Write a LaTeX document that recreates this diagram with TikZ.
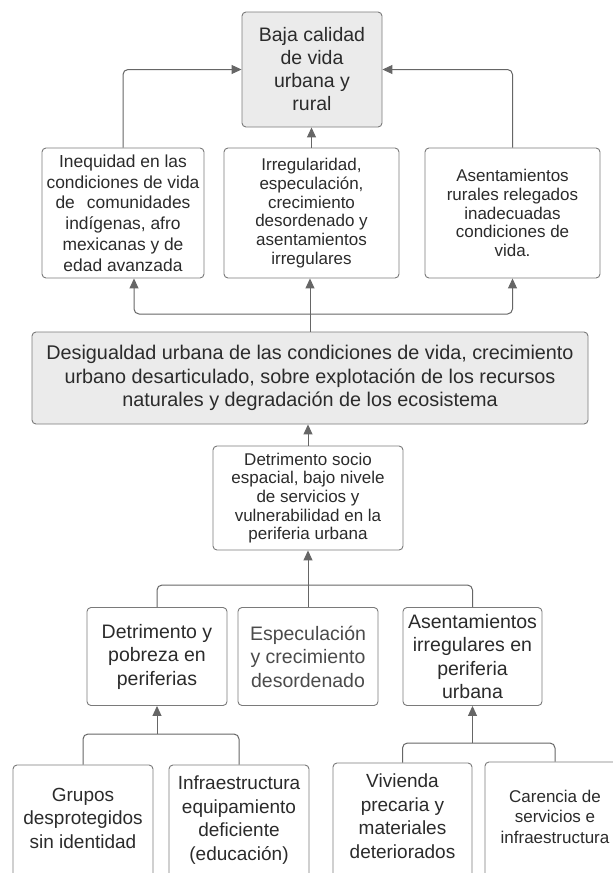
\documentclass[tikz,border=0pt]{standalone}
\usepackage{fontspec}
\setmainfont{Liberation Sans}
\usetikzlibrary{arrows.meta}
\definecolor{boxline}{HTML}{7A7A7A}
\definecolor{linkgray}{HTML}{666666}
\definecolor{boxfill}{HTML}{EBEBEB}
\definecolor{txt}{HTML}{2B2B2B}
\begin{document}
\begin{tikzpicture}[x=1pt,y=-1pt,
  box/.style={draw=boxline,rounded corners=4pt,line width=0.9pt,align=center,text=txt,inner sep=1pt},
  link/.style={draw=linkgray,line width=1pt,rounded corners=5pt}]
  \clip (0,0) rectangle (613,873);
  \fill[white] (0,0) rectangle (613,873);
        \begin{scope}[>={Triangle[length=10pt,width=9pt]}]

          \node (baja) at (312,69.5) [box,fill=boxfill,minimum width=140pt,minimum height=115pt,font=\fontsize{19.5}{23}\selectfont]{Baja calidad\\de vida\\urbana y\\rural};

          \node (ineq) at (123,213) [box,minimum width=162pt,minimum height=130pt,font=\fontsize{17.4}{20.8}\selectfont]{Inequidad en las\\condiciones de vida\\de\hspace{12pt}comunidades\\indígenas, afro\\mexicanas y de\\edad avanzada};
          \node (irreg) at (311.5,213) [box,minimum width=175pt,minimum height=130pt,font=\fontsize{17}{18.7}\selectfont]{Irregularidad,\\especulación,\\crecimiento\\desordenado y\\asentamientos\\irregulares};
          \node (asen) at (512.5,213) [box,minimum width=175pt,minimum height=130pt,font=\fontsize{17}{18.7}\selectfont]{Asentamientos\\rurales relegados\\inadecuadas\\condiciones de\\vida.};

          \node (desig) at (310,378) [box,fill=boxfill,minimum width=556pt,minimum height=92pt,font=\fontsize{19.8}{23.5}\selectfont]{Desigualdad urbana de las condiciones de vida, crecimiento\\urbano desarticulado, sobre explotación de los recursos\\naturales y degradación de los ecosistema};

          \node (socio) at (308,498) [box,minimum width=190pt,minimum height=104pt,font=\fontsize{17}{18.7}\selectfont]{Detrimento socio\\espacial, bajo nivele\\de servicios y\\vulnerabilidad en la\\periferia urbana};

          \node (pobre) at (157,656.5) [box,minimum width=140pt,minimum height=98pt,font=\fontsize{19.5}{23.5}\selectfont]{Detrimento y\\pobreza en\\periferias};
          \node (espec) at (308,656.5) [box,minimum width=140pt,minimum height=98pt,text=txt!85,font=\fontsize{19.5}{23.5}\selectfont]{Especulación\\y crecimiento\\desordenado};
          \node (asirr) at (472.5,656.5) [box,minimum width=139pt,minimum height=98pt,font=\fontsize{19.5}{23.5}\selectfont]{Asentamientos\\irregulares en\\periferia\\urbana};

          \node (grupos) at (83,830) [box,minimum width=140pt,minimum height=130pt,font=\fontsize{19}{23.5}\selectfont]{Grupos\\desprotegidos\\sin identidad\\\mbox{}};
          \node (infra) at (239,830) [box,minimum width=140pt,minimum height=130pt,font=\fontsize{19}{23.5}\selectfont]{Infraestructura\\equipamiento\\deficiente\\(educación)\\\mbox{}};
          \node (vivi) at (402.5,828) [box,minimum width=139pt,minimum height=130pt,font=\fontsize{19}{23.5}\selectfont]{Vivienda\\precaria y\\materiales\\deteriorados\\\mbox{}};
          \node (caren) at (555,827) [box,minimum width=140pt,minimum height=130pt,font=\fontsize{17}{20.5}\selectfont]{Carencia de\\servicios e\\infraestructura\\\mbox{}};

          \coordinate (j1) at (310,314);
          \coordinate (j2) at (308,585);
          \coordinate (j3) at (157,734);
          \coordinate (j4) at (472.5,743);

          \draw[->,link] (ineq.north) |- (baja.west);
          \draw[->,link] (asen.north) |- (baja.east);
          \draw[->,link] (irreg.north) -- (irreg.north |- baja.south);

          \draw[link] (desig.north) -- (j1);
          \draw[->,link] (j1) -| ([xshift=11pt]ineq.south);
          \draw[->,link] (j1) -- (j1 |- irreg.south);
          \draw[->,link] (j1) -| (asen.south);

          \draw[->,link] (socio.north) -- (socio.north |- desig.south);

          \draw[->,link] (espec.north) -- (socio.south);
          \draw[link] (pobre.north) |- (j2) -| (asirr.north);

          \draw[->,link] (j3) -- (pobre.south);
          \draw[link] (grupos.north) |- (j3) -| (infra.north);

          \draw[->,link] (j4) -- (asirr.south);
          \draw[link] (vivi.north) |- (j4) -| (caren.north);

        \end{scope}
        \end{tikzpicture}
\end{document}
